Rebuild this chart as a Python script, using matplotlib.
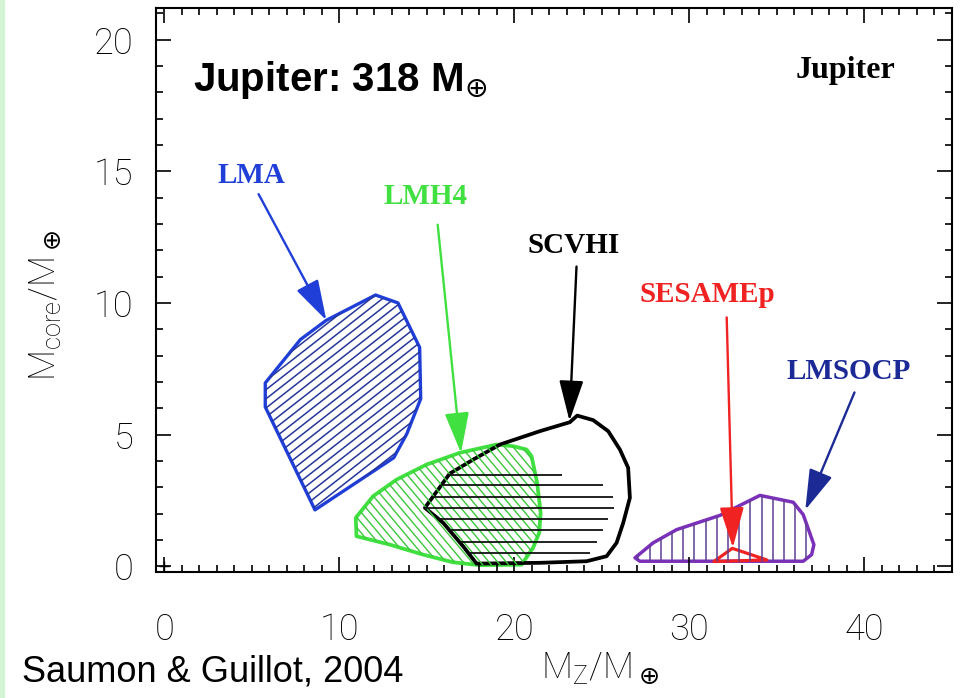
import numpy as np
import matplotlib
matplotlib.use('Agg')
import matplotlib.pyplot as plt
from matplotlib.patches import Polygon, Rectangle
from matplotlib.collections import LineCollection
from matplotlib.transforms import IdentityTransform

# ---------------- data ----------------
lma_x = [9.26, 12.07, 13.35, 14.59, 14.65, 13.85, 13.11, 8.61, 5.77, 5.77, 7.78]
lma_y = [9.34, 10.30, 10.00, 8.31, 6.36, 5.02, 4.12, 2.14, 6.05, 6.96, 8.61]

lmh4_x = [10.98, 10.94, 11.93, 13.27, 14.98, 16.89, 18.98, 19.93, 20.70, 20.98, 21.30,
          21.50, 21.42, 21.07, 20.41, 18.03, 16.50, 14.79, 12.89]
lmh4_y = [1.14, 1.84, 2.66, 3.29, 3.86, 4.31, 4.62, 4.56, 4.43, 4.18, 3.17,
          2.03, 1.27, 0.70, 0.06, 0.04, 0.15, 0.44, 0.82]

scvhi_x = [14.89, 16.31, 17.65, 19.17, 21.46, 23.17, 23.59, 24.50, 25.36, 26.03, 26.50,
           26.60, 26.22, 25.84, 25.27, 24.13, 21.46, 17.84, 17.07, 15.93]
scvhi_y = [2.22, 3.52, 4.05, 4.62, 5.13, 5.47, 5.72, 5.55, 5.13, 4.43, 3.74,
           2.60, 1.65, 0.89, 0.38, 0.19, 0.13, 0.10, 0.76, 1.65]
scvhi_hatch_y = [3.48, 3.07, 2.62, 2.22, 1.80, 1.36, 0.91, 0.49]
scvhi_hatch_xend = [22.70, 25.07, 25.65, 25.69, 25.36, 25.07, 24.70, 24.31]

sesame_x = [32.45, 31.40, 34.42]
sesame_y = [0.68, 0.18, 0.24]

lmsocp_x = [26.89, 27.93, 29.27, 31.74, 34.03, 35.93, 36.50, 37.11, 36.98, 36.50, 27.17]
lmsocp_y = [0.32, 0.89, 1.39, 1.93, 2.69, 2.43, 1.96, 0.82, 0.44, 0.19, 0.19]

labels = ['LMA', 'LMH4', 'SCVHI', 'SESAMEp', 'LMSOCP']
label_x = [4.99, 14.91, 23.37, 31.0, 39.09]
label_y = [14.84, 14.04, 12.17, 10.31, 7.39]
arrow_tail_x = [5.39, 15.62, 23.55, 32.13, 39.43]
arrow_tail_y = [14.13, 12.97, 11.38, 9.45, 6.60]
arrow_tip_x = [9.26, 16.95, 23.15, 32.48, 36.62]
arrow_tip_y = [9.34, 4.30, 5.52, 0.71, 2.14]
label_colors = ['#1f3fd8', '#3fe03f', '#000000', '#f02222', '#1c2a96']

xticks = [0, 10, 20, 30, 40]
yticks = [0, 5, 10, 15, 20]

# ---------------- figure ----------------
plt.rcParams['font.family'] = ['Roboto', 'DejaVu Sans']
W, H = 963, 698
fig = plt.figure(figsize=(W / 100, H / 100), dpi=100)
fig.patches.append(Rectangle((0, 0), 4 / W, 1, transform=fig.transFigure,
                             color='#d4f4d4', zorder=0))
ax = fig.add_axes([155.5 / W, 1 - 571.5 / H, 796.5 / W, 563.5 / H])
ax.set_xlim(-0.5, 45)
ax.set_ylim(-0.2, 21.2)

for s in ax.spines.values():
    s.set_linewidth(1.5)
ax.set_xticks(xticks)
ax.set_yticks(yticks)
ax.set_xticks(np.arange(0, 46, 1), minor=True)
ax.set_yticks(np.arange(0, 22, 1), minor=True)
ax.tick_params(which='both', direction='in', top=True, right=True, width=1.2)
ax.tick_params(which='major', length=11)
ax.tick_params(which='minor', length=5)
ax.tick_params(axis='x', which='major', pad=29)
ax.tick_params(axis='y', which='major', pad=16)
for lab in ax.get_xticklabels() + ax.get_yticklabels():
    lab.set_fontsize(26)
    lab.set_fontweight('light')
    lab.set_color('black')

ax.plot([0], [0], marker='+', color='black', ms=7, mew=1.0, clip_on=False)


def draw_hatch(xs, ys, angle, spacing, color, lw):
    verts = np.column_stack([xs, ys])
    clip = Polygon(verts, closed=True, fill=False, edgecolor='none')
    ax.add_patch(clip)
    disp = ax.transData.transform(verts)
    t = np.deg2rad(angle)
    d = np.array([np.cos(t), np.sin(t)])
    n = np.array([-np.sin(t), np.cos(t)])
    proj = disp @ n
    offs = np.arange(np.floor(proj.min() / spacing) * spacing, proj.max() + spacing, spacing)
    L = 3000
    segs = [[o * n - L * d, o * n + L * d] for o in offs]
    lc = LineCollection(segs, colors=color, linewidths=lw, transform=IdentityTransform())
    ax.add_collection(lc, autolim=False)
    lc.set_clip_path(clip)


# LMA
draw_hatch(lma_x, lma_y, 38, 7.2, '#26379a', 1.1)
ax.add_patch(Polygon(np.column_stack([lma_x, lma_y]), closed=True, fill=False,
                     edgecolor='#1f3fd8', lw=2.4, joinstyle='round'))
# LMH4
draw_hatch(lmh4_x, lmh4_y, -50, 6.6, '#3cc83c', 1.0)
ax.add_patch(Polygon(np.column_stack([lmh4_x, lmh4_y]), closed=True, fill=False,
                     edgecolor='#3fe03f', lw=2.7, joinstyle='round'))

# SCVHI horizontal hatch: from left outline to end points
sx = np.array(scvhi_x + [scvhi_x[0]])
sy = np.array(scvhi_y + [scvhi_y[0]])
for yv, xe in zip(scvhi_hatch_y, scvhi_hatch_xend):
    xs_int = []
    for i in range(len(sx) - 1):
        y1, y2 = sy[i], sy[i + 1]
        if (y1 - yv) * (y2 - yv) <= 0 and y1 != y2:
            xs_int.append(sx[i] + (yv - y1) * (sx[i + 1] - sx[i]) / (y2 - y1))
    ax.plot([min(xs_int), xe], [yv, yv], color='#111111', lw=1.3, solid_capstyle='butt')
ax.add_patch(Polygon(np.column_stack([scvhi_x, scvhi_y]), closed=True, fill=False,
                     edgecolor='black', lw=2.7, joinstyle='round'))

# LMSOCP
draw_hatch(lmsocp_x, lmsocp_y, 90, 11.2, '#5d3f8f', 1.1)
ax.add_patch(Polygon(np.column_stack([lmsocp_x, lmsocp_y]), closed=True, fill=False,
                     edgecolor='#7a30b8', lw=2.5, joinstyle='round'))

# SESAMEp
ax.add_patch(Polygon(np.column_stack([sesame_x, sesame_y]), closed=True, fill=False,
                     edgecolor='#f02222', lw=2.3, joinstyle='round'))

# labels and arrows
for lab, lx, ly, tx, ty, hx, hy, c in zip(labels, label_x, label_y, arrow_tail_x, arrow_tail_y,
                                          arrow_tip_x, arrow_tip_y, label_colors):
    ax.text(lx, ly, lab, color=c, fontsize=21, fontweight='bold',
            family=['Liberation Serif', 'DejaVu Serif'], ha='center', va='center')
    ax.annotate('', xy=(hx, hy), xytext=(tx, ty),
                arrowprops=dict(arrowstyle='-|>,head_length=1.4,head_width=0.42',
                                mutation_scale=18, color=c, lw=1.7,
                                shrinkA=0, shrinkB=0))

ax.text(38.9, 18.56, 'Jupiter', color='black', fontsize=23, fontweight='bold',
        family=['Liberation Serif', 'DejaVu Serif'], ha='center', va='baseline')
ax.text(1.63, 18.03, 'Jupiter: 318 M$_{\\oplus}$', color='black', fontsize=29,
        fontweight='bold', family=['Liberation Sans', 'DejaVu Sans'],
        ha='left', va='baseline')

fig.text(45 / W, 1 - 305 / H, 'M$_\\mathregular{core}$/M$_\\oplus$', rotation=90,
         fontsize=26, fontweight='light', color='black', ha='center', va='center')
fig.text(600 / W, 1 - 668 / H, 'M$_\\mathregular{Z}$/M$_\\oplus$',
         fontsize=26, fontweight='light', color='black', ha='center', va='center')
fig.text(22 / W, 1 - 682 / H, 'Saumon & Guillot, 2004', fontsize=26,
         family=['Liberation Sans', 'DejaVu Sans'], color='black', ha='left', va='baseline')

fig.savefig('out.png', dpi=100)
